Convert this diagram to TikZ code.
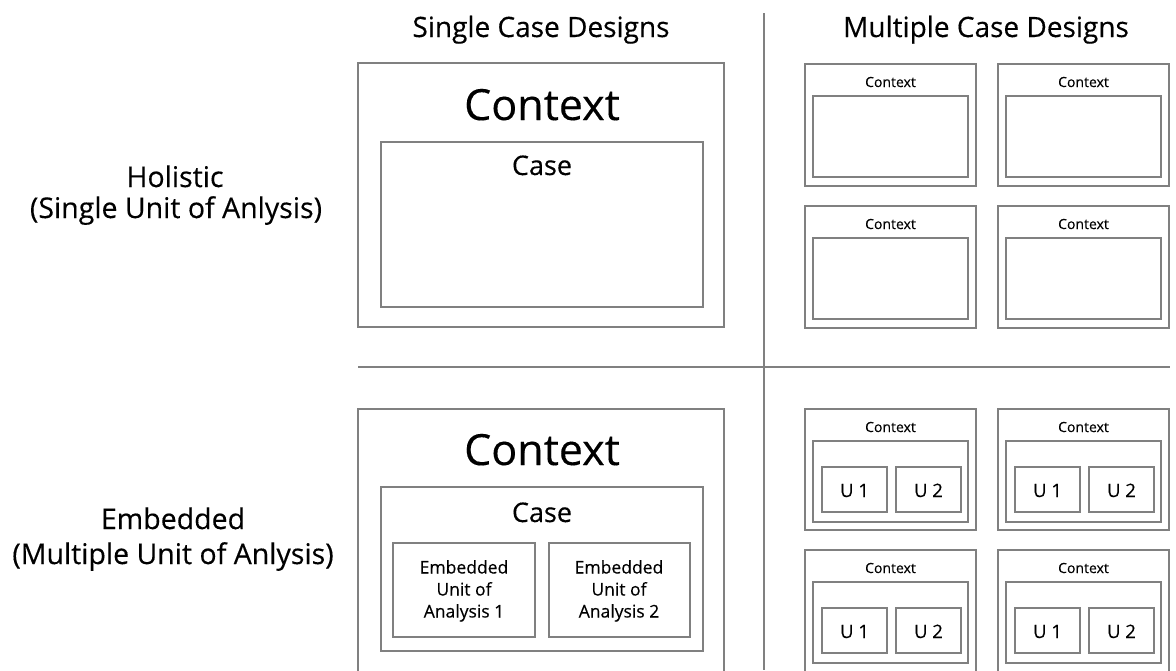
\documentclass[tikz,border=0pt]{standalone}
\usepackage{fontspec}
\setmainfont{Open Sans}[FakeBold=0.3]
\begin{document}
\begin{tikzpicture}[x=1pt,y=-1pt,
  box/.style={draw=black!50, line width=1.3pt, anchor=north west, inner sep=0pt, outer sep=0pt},
  lbl/.style={inner sep=0pt, anchor=base, text=black},
  divider/.style={draw=black!50, line width=1.3pt},
  big/.style={font=\fontsize{43}{50}\selectfont},
  mid/.style={font=\fontsize{27}{32}\selectfont},
  ttl/.style={font=\fontsize{28}{32}\selectfont},
  row/.style={font=\fontsize{28.5}{32}\selectfont},
  emb/.style={font=\fontsize{17.5}{22}\selectfont},
  tiny/.style={font=\fontsize{14}{16}\selectfont},
  unit/.style={font=\fontsize{18.5}{20}\selectfont}]
\useasboundingbox (0,0) rectangle (1176,670);
\clip (0,0) rectangle (1176,670);

% dividers
\coordinate (vtop) at (764,13);
\coordinate (vbot) at (764,670);
\coordinate (hl) at (358,367);
\coordinate (hr) at (1170,367);
\draw[divider] (vtop) -- (vbot);
\draw[divider] (hl) -- (hr);

% titles
\node[lbl, ttl] (t1) at (541,37) {Single Case Designs};
\node[lbl, ttl] (t2) at (986,37) {Multiple Case Designs};

% row labels
\node[lbl, row] (r1a) at (175,187) {Holistic};
\node[lbl, row] (r1b) at (176,218) {(Single Unit of Anlysis)};
\node[lbl, row] (r2a) at (173,529) {Embedded};
\node[lbl, row] (r2b) at (173,564) {(Multiple Unit of Anlysis)};

% single holistic
\node[box, minimum width=366pt, minimum height=264pt] (s1) at (358,63) {};
\node[box, minimum width=322pt, minimum height=165pt] (s1c) at (381,142) {};
\node[lbl, big] (s1t) at (542,120) {Context};
\node[lbl, mid] (s1ct) at (542,175) {Case};

% single embedded
\node[box, minimum width=366pt, minimum height=290pt] (s2) at (358,409) {};
\node[box, minimum width=322pt, minimum height=164pt] (s2c) at (381,487) {};
\node[box, minimum width=142pt, minimum height=94pt] (e1) at (393,543) {};
\node[box, minimum width=141pt, minimum height=94pt] (e2) at (549,543) {};
\node[lbl, big] (s2t) at (542,465) {Context};
\node[lbl, mid] (s2ct) at (542,522) {Case};
\node[lbl, emb, align=center, anchor=north] (e1t) at (464,560) {Embedded\\Unit of\\Analysis 1};
\node[lbl, emb, align=center, anchor=north] (e2t) at (619,560) {Embedded\\Unit of\\Analysis 2};

% multiple holistic
\foreach \c/\x in {a/805, b/998} {
  \foreach \r/\y in {1/64, 2/206} {
    \node[box, minimum width=171pt, minimum height=122pt] (mh\c\r) at (\x,\y) {};
    \node[box, minimum width=155pt, minimum height=81pt] (mh\c\r c) at (\x+8,\y+32) {};
    \node[lbl, tiny] (mh\c\r t) at (\x+85.5,\y+23) {Context};
  }
}

% multiple embedded
\foreach \c/\x in {a/805, b/998} {
  \foreach \r/\y/\h in {1/409/121, 2/550/140} {
    \node[box, minimum width=171pt, minimum height=\h pt] (me\c\r) at (\x,\y) {};
    \node[box, minimum width=155pt, minimum height=81pt] (me\c\r c) at (\x+8,\y+32) {};
    \node[box, minimum width=65pt, minimum height=45pt] (me\c\r u) at (\x+17,\y+58) {};
    \node[box, minimum width=65pt, minimum height=45pt] (me\c\r v) at (\x+91,\y+58) {};
    \node[lbl, tiny] (me\c\r t) at (\x+85.5,\y+23) {Context};
    \node[lbl, unit] (me\c\r ut) at (\x+49.5,\y+88) {U 1};
    \node[lbl, unit] (me\c\r vt) at (\x+123.5,\y+88) {U 2};
  }
}
\end{tikzpicture}
\end{document}
